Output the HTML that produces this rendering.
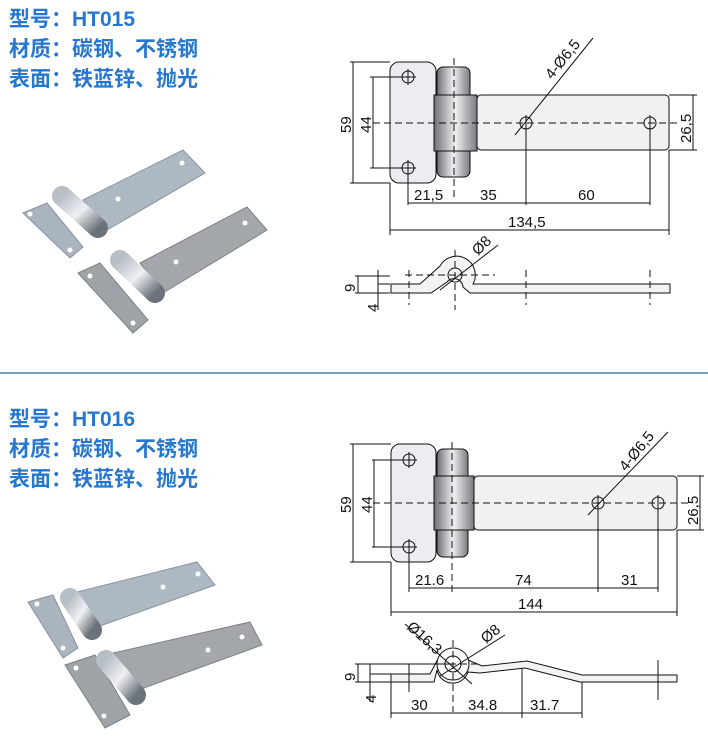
<!DOCTYPE html>
<html><head><meta charset="utf-8"><style>
html,body{margin:0;padding:0;background:#fff;}
svg{display:block}
.t{font-family:"Liberation Sans","Noto Sans CJK SC",sans-serif;font-size:21px;fill:#2577cf;font-weight:bold}
.d{font-family:"Liberation Sans",sans-serif;font-size:15px;fill:#111}
.l{stroke:#111;stroke-width:1;fill:none}
.ds{stroke:#111;stroke-width:1;fill:none;stroke-dasharray:7 4}
</style></head><body>
<svg width="708" height="738" viewBox="0 0 708 738" xmlns="http://www.w3.org/2000/svg">
<defs>
<linearGradient id="kn" x1="0" x2="1" y1="0" y2="0">
<stop offset="0" stop-color="#6e6e74"/><stop offset="0.5" stop-color="#f0f0f2"/><stop offset="1" stop-color="#7a7a80"/></linearGradient>
<linearGradient id="cy" x1="0" x2="1" y1="0" y2="1">
<stop offset="0" stop-color="#b8bec6"/><stop offset="0.5" stop-color="#eef0f3"/><stop offset="1" stop-color="#6c727a"/></linearGradient>
</defs>

<text class="t" x="9" y="26">型号：HT015</text>
<text class="t" x="9" y="56">材质：碳钢、不锈钢</text>
<text class="t" x="9" y="86">表面：铁蓝锌、抛光</text>
<text class="t" x="9" y="426">型号：HT016</text>
<text class="t" x="9" y="456">材质：碳钢、不锈钢</text>
<text class="t" x="9" y="486">表面：铁蓝锌、抛光</text>
<line x1="0" y1="373" x2="708" y2="373" stroke="#4a82ad" stroke-width="1.5"/>

<!-- top photo -->
<g>
<polygon points="23,213 47,203 83,247 70,258" fill="#a9b4bf" stroke="#8a949e"/>
<polygon points="83,200 183,150 205,173 107,230" fill="#aeb8c2" stroke="#8a949e"/>
<circle cx="30" cy="214" r="2.5" fill="#fff"/><circle cx="70" cy="250" r="2.5" fill="#fff"/>
<circle cx="118" cy="199" r="2.5" fill="#fff"/><circle cx="182" cy="163" r="2.5" fill="#fff"/>
<line x1="62" y1="196" x2="98" y2="228" stroke="url(#cy)" stroke-width="20" stroke-linecap="round"/>
<polygon points="78,273 100,263 148,320 133,333" fill="#9ea3a8" stroke="#7d8288"/>
<polygon points="140,263 247,207 267,230 163,293" fill="#a3a7ab" stroke="#7d8288"/>
<circle cx="90" cy="276" r="2.5" fill="#fff"/><circle cx="133" cy="323" r="2.5" fill="#fff"/>
<circle cx="176" cy="262" r="2.5" fill="#fff"/><circle cx="245" cy="223" r="2.5" fill="#fff"/>
<line x1="120" y1="260" x2="155" y2="293" stroke="url(#cy)" stroke-width="20" stroke-linecap="round"/>
</g>
<!-- bottom photo -->
<g>
<polygon points="28,602 53,595 78,648 63,658" fill="#a9b4bf" stroke="#8a949e"/>
<polygon points="73,593 197,562 215,585 97,627" fill="#aeb8c2" stroke="#8a949e"/>
<circle cx="37" cy="604" r="2.5" fill="#fff"/><circle cx="63" cy="648" r="2.5" fill="#fff"/>
<circle cx="163" cy="587" r="2.5" fill="#fff"/><circle cx="198" cy="574" r="2.5" fill="#fff"/>
<line x1="70" y1="598" x2="92" y2="630" stroke="url(#cy)" stroke-width="20" stroke-linecap="round"/>
<polygon points="65,665 95,655 130,715 105,728" fill="#9ea3a8" stroke="#7d8288"/>
<polygon points="113,653 250,622 262,645 130,693" fill="#a3a7ab" stroke="#7d8288"/>
<circle cx="76" cy="668" r="2.5" fill="#fff"/><circle cx="104" cy="716" r="2.5" fill="#fff"/>
<circle cx="208" cy="650" r="2.5" fill="#fff"/><circle cx="242" cy="637" r="2.5" fill="#fff"/>
<line x1="106" y1="660" x2="136" y2="695" stroke="url(#cy)" stroke-width="20" stroke-linecap="round"/>
</g>

<!-- DRAWING 1 -->
<rect x="390" y="62" width="46" height="121" rx="9" class="l" style="fill:#ededf1"/>
<rect x="437" y="67" width="33" height="110" rx="6" class="l" style="fill:url(#kn)"/>
<rect x="434" y="95" width="43" height="56" class="l" style="fill:url(#kn)"/>
<rect x="477" y="95" width="192" height="55" rx="4" class="l" style="fill:#f1f1f4"/>
<line x1="373" y1="123" x2="677" y2="123" class="ds"/>
<line x1="454" y1="58" x2="454" y2="200" class="ds"/>
<g class="l">
<circle cx="408" cy="77" r="6"/><line x1="400" y1="77" x2="416" y2="77"/><line x1="408" y1="69" x2="408" y2="85"/>
<circle cx="408" cy="168" r="6"/><line x1="400" y1="168" x2="416" y2="168"/><line x1="408" y1="160" x2="408" y2="205"/>
<circle cx="526" cy="123" r="6"/><line x1="526" y1="115" x2="526" y2="205"/>
<circle cx="650" cy="123" r="6"/><line x1="650" y1="115" x2="650" y2="205"/>
<line x1="515" y1="135" x2="593" y2="38"/>
<line x1="350" y1="62" x2="390" y2="62"/><line x1="350" y1="183" x2="390" y2="183"/><line x1="353" y1="62" x2="353" y2="183"/>
<line x1="370" y1="77" x2="402" y2="77"/><line x1="370" y1="168" x2="402" y2="168"/><line x1="373" y1="77" x2="373" y2="168"/>
<line x1="669" y1="95" x2="697" y2="95"/><line x1="669" y1="150" x2="697" y2="150"/><line x1="693" y1="95" x2="693" y2="150"/>
<line x1="408" y1="203" x2="650" y2="203"/>
<line x1="390" y1="183" x2="390" y2="235"/><line x1="669" y1="150" x2="669" y2="235"/>
<line x1="390" y1="230" x2="669" y2="230"/>
</g>
<text class="d" transform="translate(351,133) rotate(-90)">59</text>
<text class="d" transform="translate(371,133) rotate(-90)">44</text>
<text class="d" transform="translate(691,143) rotate(-90)">26,5</text>
<text class="d" transform="translate(552,80) rotate(-51)">4-Ø6,5</text>
<text class="d" x="414" y="200">21,5</text>
<text class="d" x="480" y="200">35</text>
<text class="d" x="578" y="200">60</text>
<text class="d" x="508" y="227">134,5</text>
<!-- side view 1 -->
<path d="M391,284 L420,284 L440,266 A14,14 0 1 1 473,284 L670,284 L670,293 L470,293 L463,287 A9,9 0 0 0 447,282 L431,293 L391,293 Z" class="l" style="fill:#f3f3f3"/>
<circle cx="455" cy="275" r="7" class="l"/>
<line x1="405" y1="275" x2="495" y2="275" class="ds"/>
<line x1="455" y1="250" x2="455" y2="310" class="ds"/>
<line x1="409" y1="270" x2="409" y2="305" class="ds"/>
<line x1="526" y1="270" x2="526" y2="305" class="ds"/>
<line x1="650" y1="270" x2="650" y2="305" class="ds"/>
<g class="l">
<line x1="440" y1="290" x2="498" y2="245"/>
<line x1="355" y1="276" x2="390" y2="276"/><line x1="355" y1="293" x2="390" y2="293"/><line x1="358" y1="276" x2="358" y2="293"/>
<line x1="378" y1="284" x2="390" y2="284"/><line x1="378" y1="270" x2="378" y2="310"/>
</g>
<text class="d" transform="translate(478,256) rotate(-45)">Ø8</text>
<text class="d" transform="translate(355,292) rotate(-90)">9</text>
<text class="d" transform="translate(378,312) rotate(-90)">4</text>

<!-- DRAWING 2 -->
<rect x="391" y="444" width="45" height="118" rx="9" class="l" style="fill:#ededf1"/>
<rect x="437" y="449" width="31" height="108" rx="6" class="l" style="fill:url(#kn)"/>
<rect x="434" y="476" width="40" height="54" class="l" style="fill:url(#kn)"/>
<rect x="474" y="476" width="203" height="54" rx="4" class="l" style="fill:#f1f1f4"/>
<line x1="373" y1="503" x2="690" y2="503" class="ds"/>
<line x1="452" y1="442" x2="452" y2="592" class="ds"/>
<g class="l">
<circle cx="409" cy="460" r="6"/><line x1="401" y1="460" x2="417" y2="460"/><line x1="409" y1="452" x2="409" y2="468"/>
<circle cx="409" cy="547" r="6"/><line x1="401" y1="547" x2="417" y2="547"/><line x1="409" y1="539" x2="409" y2="592"/>
<circle cx="598" cy="503" r="6"/><line x1="598" y1="495" x2="598" y2="592"/>
<circle cx="658" cy="503" r="6"/><line x1="658" y1="495" x2="658" y2="592"/>
<line x1="588" y1="515" x2="668" y2="432"/>
<line x1="350" y1="444" x2="391" y2="444"/><line x1="350" y1="562" x2="391" y2="562"/><line x1="353" y1="444" x2="353" y2="562"/>
<line x1="372" y1="460" x2="403" y2="460"/><line x1="372" y1="547" x2="403" y2="547"/><line x1="374" y1="460" x2="374" y2="547"/>
<line x1="677" y1="476" x2="704" y2="476"/><line x1="677" y1="530" x2="704" y2="530"/><line x1="700" y1="476" x2="700" y2="530"/>
<line x1="409" y1="588" x2="658" y2="588"/>
<line x1="391" y1="562" x2="391" y2="616"/><line x1="677" y1="530" x2="677" y2="616"/>
<line x1="391" y1="612" x2="677" y2="612"/>
</g>
<text class="d" transform="translate(351,513) rotate(-90)">59</text>
<text class="d" transform="translate(372,513) rotate(-90)">44</text>
<text class="d" transform="translate(698,525) rotate(-90)">26,5</text>
<text class="d" transform="translate(626,472) rotate(-51)">4-Ø6,5</text>
<text class="d" x="415" y="585">21.6</text>
<text class="d" x="515" y="585">74</text>
<text class="d" x="621" y="585">31</text>
<text class="d" x="518" y="609">144</text>
<!-- side view 2 -->
<path d="M391,674 L430,674 L440,655 A16,16 0 0 1 468,660 L482,666 L527,661 L582,675 L677,675 L677,682 L580,682 L525,668 L480,673 L468,672 A16,16 0 0 1 437,670 L434,682 L391,682 Z" class="l" style="fill:#f3f3f3"/>
<circle cx="453" cy="664" r="16" class="l" style="fill:#fafafa"/>
<circle cx="453" cy="664" r="8" class="l"/>
<line x1="405" y1="664" x2="480" y2="664" class="ds"/>
<line x1="453" y1="640" x2="453" y2="712" class="ds"/>
<g class="l">
<line x1="405" y1="624" x2="472" y2="684"/>
<line x1="440" y1="676" x2="505" y2="635"/>
<line x1="355" y1="664" x2="452" y2="664"/><line x1="355" y1="682" x2="391" y2="682"/><line x1="358" y1="664" x2="358" y2="682"/>
<line x1="370" y1="674" x2="391" y2="674"/><line x1="370" y1="664" x2="370" y2="702"/>
<line x1="409" y1="664" x2="409" y2="692"/>
<line x1="391" y1="682" x2="391" y2="718"/><line x1="522" y1="668" x2="522" y2="718"/><line x1="582" y1="682" x2="582" y2="718"/>
<line x1="391" y1="713" x2="582" y2="713"/>
<line x1="658" y1="660" x2="658" y2="700"/>
</g>
<text class="d" transform="translate(406,628) rotate(42)">Ø16,3</text>
<text class="d" transform="translate(486,644) rotate(-40)">Ø8</text>
<text class="d" transform="translate(355,681) rotate(-90)">9</text>
<text class="d" transform="translate(376,703) rotate(-90)">4</text>
<text class="d" x="411" y="710">30</text>
<text class="d" x="468" y="710">34.8</text>
<text class="d" x="530" y="710">31.7</text>
</svg>
</body></html>
